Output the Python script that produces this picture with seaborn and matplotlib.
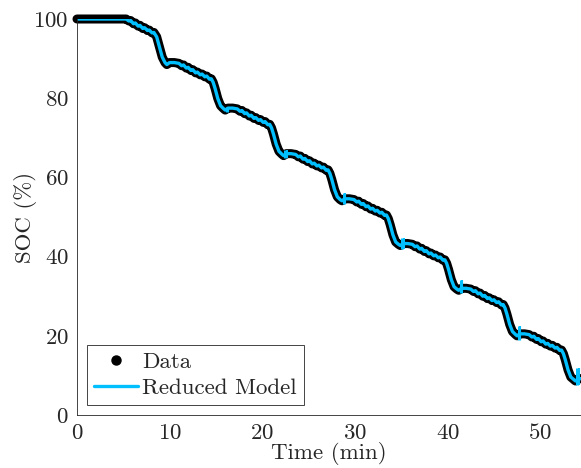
import numpy as np
import pandas as pd
import matplotlib
matplotlib.use("Agg")
import matplotlib.pyplot as plt
import seaborn as sns
from matplotlib.lines import Line2D

time_min = [0.0, 5.3, 5.6, 5.8, 6.1, 6.3, 6.6, 6.8, 7.1, 7.3, 7.6, 7.8, 8.1, 8.3, 8.6, 8.9, 9.2, 9.5, 9.7,
            10.0, 10.5, 11.0, 11.3, 11.5, 11.8, 12.0, 12.3, 12.5, 12.8, 13.0, 13.3, 13.5, 13.8, 14.0, 14.3, 14.5, 14.7, 14.9, 15.2, 15.5, 15.8, 16.0,
            16.3, 16.8, 17.3, 17.6, 17.8, 18.1, 18.3, 18.6, 18.8, 19.1, 19.3, 19.6, 19.8, 20.1, 20.3, 20.6, 20.8, 21.0, 21.2, 21.5, 21.8, 22.1, 22.3,
            22.6, 23.1, 23.6, 23.9, 24.1, 24.4, 24.6, 24.9, 25.1, 25.4, 25.6, 25.9, 26.1, 26.4, 26.6, 26.9, 27.1, 27.3, 27.5, 27.8, 28.1, 28.4, 28.6,
            28.9, 29.4, 29.9, 30.2, 30.4, 30.7, 30.9, 31.2, 31.4, 31.7, 31.9, 32.2, 32.4, 32.7, 32.9, 33.2, 33.4, 33.6, 33.8, 34.1, 34.4, 34.7, 34.9,
            35.2, 35.7, 36.2, 36.5, 36.7, 37.0, 37.2, 37.5, 37.7, 38.0, 38.2, 38.5, 38.7, 39.0, 39.2, 39.5, 39.7, 39.9, 40.1, 40.4, 40.7, 41.0, 41.2,
            41.5, 42.0, 42.5, 42.8, 43.0, 43.3, 43.5, 43.8, 44.0, 44.3, 44.5, 44.8, 45.0, 45.3, 45.5, 45.8, 46.0, 46.2, 46.4, 46.7, 47.0, 47.3, 47.5,
            47.8, 48.3, 48.8, 49.1, 49.3, 49.6, 49.8, 50.1, 50.3, 50.6, 50.8, 51.1, 51.3, 51.6, 51.8, 52.1, 52.3, 52.5, 52.7, 53.0, 53.3, 53.6, 53.8,
            54.1, 54.4, 54.6]
soc = [100.0, 100.0, 99.5, 99.6, 98.8, 99.0, 98.2, 98.4, 97.6, 97.8, 97.1, 97.2, 96.5, 96.6, 95.5, 93.0, 90.4, 89.0, 88.5,
       89.0, 89.0, 88.8, 88.2, 88.4, 87.6, 87.8, 87.0, 87.2, 86.4, 86.6, 85.9, 86.1, 85.4, 85.6, 84.8, 84.9, 84.0, 82.5, 79.9, 78.1, 77.4, 77.0,
       77.5, 77.5, 77.3, 76.7, 76.9, 76.1, 76.3, 75.5, 75.7, 74.9, 75.1, 74.4, 74.6, 73.9, 74.1, 73.3, 73.4, 72.5, 71.0, 68.4, 66.6, 65.9, 65.5,
       66.0, 66.0, 65.8, 65.2, 65.4, 64.6, 64.8, 64.0, 64.2, 63.4, 63.6, 62.9, 63.1, 62.4, 62.6, 61.8, 61.9, 61.0, 59.5, 56.9, 55.1, 54.4, 54.1,
       54.6, 54.6, 54.4, 53.8, 54.0, 53.2, 53.4, 52.6, 52.8, 52.0, 52.2, 51.5, 51.7, 51.0, 51.2, 50.4, 50.5, 49.6, 48.1, 45.5, 43.7, 43.1, 42.8,
       43.3, 43.3, 43.1, 42.5, 42.7, 41.9, 42.1, 41.3, 41.5, 40.7, 40.9, 40.2, 40.4, 39.7, 39.9, 39.1, 39.2, 38.3, 36.8, 34.2, 32.4, 31.8, 31.5,
       32.0, 32.0, 31.8, 31.2, 31.4, 30.6, 30.8, 30.0, 30.2, 29.4, 29.6, 28.9, 29.1, 28.4, 28.6, 27.8, 27.9, 27.0, 25.5, 22.9, 21.1, 20.4, 20.0,
       20.5, 20.5, 20.3, 19.7, 19.9, 19.1, 19.3, 18.5, 18.7, 17.9, 18.1, 17.4, 17.6, 16.9, 17.1, 16.3, 16.4, 15.5, 14.0, 11.4, 9.6, 9.0, 8.6,
       9.1, 9.2, 9.2]

# reduced model follows the data, with short spikes at the end of each pulse
spike_t = [16.2, 22.5, 28.8, 35.1, 41.4, 47.7, 54.0]
spike_lo = [76.6, 64.9, 53.4, 42.0, 30.8, 19.0, 7.6]
spike_hi = [77.9, 66.8, 56.0, 44.8, 34.0, 22.6, 11.9]

df = pd.DataFrame({"t": time_min, "soc": soc})

sns.set_style("white")
plt.rcParams["font.family"] = ["cmr10", "DejaVu Serif"]
plt.rcParams["axes.formatter.use_mathtext"] = True
plt.rcParams["font.size"] = 16.5

cyan = "#00BFFF"
axcol = "#262626"

fig = plt.figure(figsize=(5.81, 4.68), dpi=100)
ax = fig.add_axes([0.1325, 0.1132, 0.8675, 0.8462])

sns.lineplot(data=df, x="t", y="soc", color="black", lw=6.5, ax=ax,
             estimator=None, solid_capstyle="round", solid_joinstyle="round", clip_on=False)
sns.lineplot(data=df, x="t", y="soc", color=cyan, lw=2.4, ax=ax,
             estimator=None, solid_joinstyle="round")
ax.vlines(spike_t, spike_lo, spike_hi, color=cyan, lw=2.2)
ax.vlines(np.array(spike_t) + 0.15, spike_lo, spike_hi, color=cyan, lw=1.5)

ax.set_xlim(0, 54.4)
ax.set_ylim(0, 100)
ax.set_xticks([0, 10, 20, 30, 40, 50])
ax.set_yticks([0, 20, 40, 60, 80, 100])
ax.tick_params(direction="in", length=5, width=0.6, color=axcol, labelcolor="#262626")
ax.tick_params(axis="y", pad=6)
ax.tick_params(axis="x", pad=6)
for s in ["top", "right"]:
    ax.spines[s].set_visible(False)
for s in ["left", "bottom"]:
    ax.spines[s].set_color(axcol)
    ax.spines[s].set_linewidth(0.6)

ax.set_xlabel("Time (min)", labelpad=-1, color="#262626")
ax.set_ylabel("SOC (%)", labelpad=-3, color="#262626")

handles = [Line2D([], [], color="black", marker="o", ls="none", markersize=6.5),
           Line2D([], [], color=cyan, lw=2.4)]
leg = ax.legend(handles, ["Data", "Reduced Model"], loc="lower left",
                frameon=True, fancybox=False, framealpha=1, edgecolor="#262626",
                borderaxespad=0.45, borderpad=0.3, labelspacing=0.25,
                handlelength=1.9, handletextpad=0.2)
leg.get_frame().set_linewidth(0.6)

fig.savefig("out.png", dpi=100)
